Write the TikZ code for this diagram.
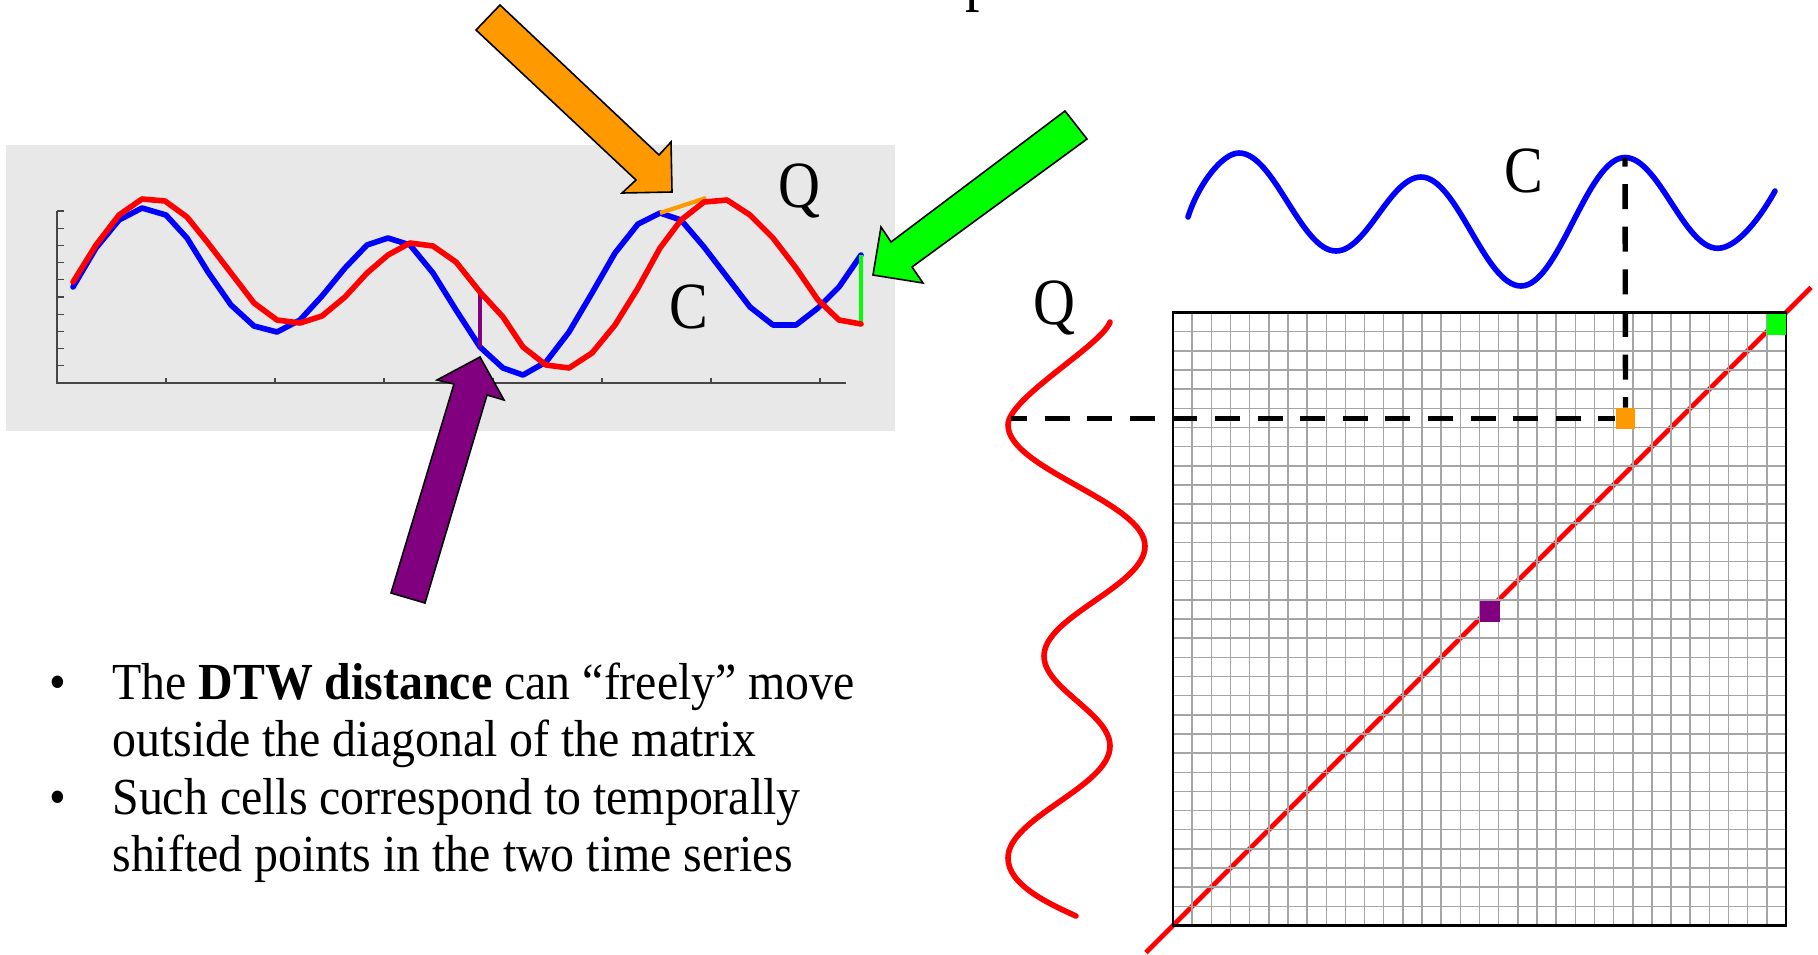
\documentclass[tikz,border=0pt]{standalone}
\usepackage{fontspec}
\setmainfont{Liberation Serif}
\usepackage{graphicx}
\definecolor{panelgray}{RGB}{232,232,232}
\definecolor{gridgray}{RGB}{165,165,165}
\definecolor{dtworange}{RGB}{255,153,0}
\definecolor{dtwgreen}{RGB}{0,255,0}
\definecolor{dtwpurple}{RGB}{128,0,128}
\definecolor{axisgray}{RGB}{70,70,70}
\newcommand\hsq[1]{\scalebox{0.92}[1]{#1}}
\newcommand\lsq[1]{\scalebox{0.88}[1]{#1}}
\tikzset{
  curve/.style={line width=2.8pt, line join=round, line cap=round},
  bluec/.style={curve, draw=blue},
  redc/.style={curve, draw=red},
  blockarrow/.style={draw=black, line width=0.8pt, line join=miter},
  biglabel/.style={inner sep=0pt, anchor=base, font=\fontsize{33pt}{36pt}\selectfont},
  bulletfont/.style={inner sep=0pt, font=\fontsize{26pt}{30pt}\selectfont},
  gridline/.style={draw=gridgray, line width=0.75pt},
  dashline/.style={draw=black, line width=2.7pt, dash pattern=on 12.5pt off 8.8pt},
  cellsq/.style={inner sep=0pt, minimum width=9.8pt, minimum height=10.5pt, draw=none},
  axisline/.style={draw=axisgray, line width=0.9pt},
  tickline/.style={draw=axisgray, line width=0.6pt},
}
\begin{document}
\begin{tikzpicture}[x=0.5pt,y=-0.5pt]
\useasboundingbox (0,0) rectangle (1818,954);

% cut-off title glyph
\node[biglabel, anchor=base west] (titlep) at (965,-2) {\lsq{p}};

% ---------- left panel ----------
\fill[panelgray] (6,145) rectangle (895,431);
\draw[axisline] (57,211) -- (57,383) -- (846,383);
\foreach \k in {0,...,9} \draw[tickline] (57,{211+17.2*\k}) -- ++(7,0);
\foreach \k in {1,...,7} \draw[tickline] ({57+109*\k},383) -- ++(0,-5);

\draw[bluec] plot coordinates {(73,287) (96,248) (119,220) (142,208) (166,215) (187,238) (208,272) (231,305) (254,326) (277,332) (300,320) (322,296) (345,268) (367,245) (388,238) (410,245) (433,273) (456,310) (480,347) (503,368) (523,375) (546,362) (569,332) (592,293) (615,253) (638,224) (660,213) (681,220) (704,247) (727,277) (750,307) (773,325) (796,325) (818,308) (839,287) (861,255)};

\coordinate (b18) at (480,347);
\coordinate (r18) at (480,292);
\coordinate (b26) at (660,213);
\coordinate (r28) at (706,198);
\coordinate (b35) at (861,255);
\coordinate (r35) at (861,324);
\draw[dtwpurple, line width=1.6pt] (r18) -- (b18);
\draw[dtworange, line width=2.1pt] (b26) -- (r28);
\draw[dtwgreen, line width=1.9pt] (b35) -- (r35);

\draw[redc] plot coordinates {(73,282) (96,245) (119,215) (142,199) (165,201) (187,217) (208,243) (231,273) (254,303) (277,320) (300,323) (322,316) (345,297) (367,273) (388,255) (410,243) (433,246) (456,262) (480,292) (503,317) (523,347) (546,365) (569,368) (592,353) (615,325) (638,288) (660,248) (681,220) (704,202) (727,200) (750,215) (773,238) (796,268) (818,300) (839,320) (861,324)};

\node[biglabel] (lq) at (799,207) {\lsq{Q}};
\node[biglabel] (lc) at (689,328) {\lsq{C}};

% ---------- block arrows ----------
\filldraw[blockarrow, fill=dtworange] (476,30) -- (500,5) -- (659,155) -- (671,142) -- (672,192) -- (622,193) -- (636,180) -- cycle;
\filldraw[blockarrow, fill=dtwgreen] (1065,111) -- (1087,139) -- (912,267) -- (923,283) -- (873,275) -- (881,227) -- (891,242) -- cycle;
\filldraw[blockarrow, fill=dtwpurple] (480,357) -- (504,400) -- (487,395) -- (425,603) -- (391,593) -- (454,384) -- (437,380) -- cycle;

% ---------- bullet text ----------
\node[bulletfont, anchor=base] (bul1) at (58,699) {\hsq{•}};
\node[bulletfont, anchor=base west] (txt1) at (112,699) {\hsq{The \textbf{DTW distance} can “freely” move}};
\node[bulletfont, anchor=base west] (txt2) at (112,756.5) {\hsq{outside the diagonal of the matrix}};
\node[bulletfont, anchor=base] (bul2) at (58,814) {\hsq{•}};
\node[bulletfont, anchor=base west] (txt3) at (112,814) {\hsq{Such cells correspond to temporally}};
\node[bulletfont, anchor=base west] (txt4) at (112,871.5) {\hsq{shifted points in the two time series}};

% ---------- matrix ----------
\coordinate (diagS) at (1146,952.5);
\coordinate (diagN) at (1811,287.5);
\draw[red, line width=2.4pt] (diagS) -- (diagN);
\foreach \i in {0,...,32} {
  \draw[gridline] ({1173+\i*19.15625},312.5) -- ++(0,613);
  \draw[gridline] (1173,{312.5+\i*19.15625}) -- ++(613,0);
}
\draw[black, line width=1.4pt] (1173,312.5) rectangle (1786,925.5);

% C curve (top)
\draw[bluec] (1188,217) .. controls (1198,185) and (1222,153) .. (1239,153)
  .. controls (1274.2,153) and (1300.8,251) .. (1336,251)
  .. controls (1366.9,251) and (1390.1,177) .. (1421,177)
  .. controls (1457.3,177) and (1484.7,286) .. (1521,286)
  .. controls (1558.8,286) and (1587.2,157.5) .. (1625,157.5)
  .. controls (1658.6,157.5) and (1684,248.3) .. (1717.6,248.3)
  .. controls (1737,248.3) and (1760,218) .. (1775,191);
\node[biglabel] (rc) at (1524,192) {\lsq{C}};

% Q curve (left)
\draw[redc] (1110,322) .. controls (1102,345) and (1008,398) .. (1008,425)
  .. controls (1008,468.9) and (1145,502.1) .. (1145,546)
  .. controls (1145,585.9) and (1044,616.1) .. (1044,656)
  .. controls (1044,688.7) and (1110,713.3) .. (1110,746)
  .. controls (1110,786.7) and (1008,817.3) .. (1008,858)
  .. controls (1008,884) and (1045,902) .. (1076,916);
\node[biglabel] (rq) at (1054,324) {\lsq{Q}};

% cells and dashed guides
\coordinate (cpeak) at (1625,157.5);
\coordinate (qext) at (1011,418.5);
\node[cellsq, fill=dtworange] (ocell) at (1625.5,418.5) {};
\draw[dashline, dash phase=8pt] (cpeak) -- (ocell.north);
\draw[dashline, dash phase=4.5pt] (qext) -- (ocell.west);
\node[cellsq, fill=dtworange] (ocell2) at (1625.5,418.5) {};
\node[cellsq, fill=dtwpurple] (pcell) at (1490,611.5) {};
\node[cellsq, fill=dtwgreen] (gcell) at (1776.5,324.5) {};
\end{tikzpicture}
\end{document}
